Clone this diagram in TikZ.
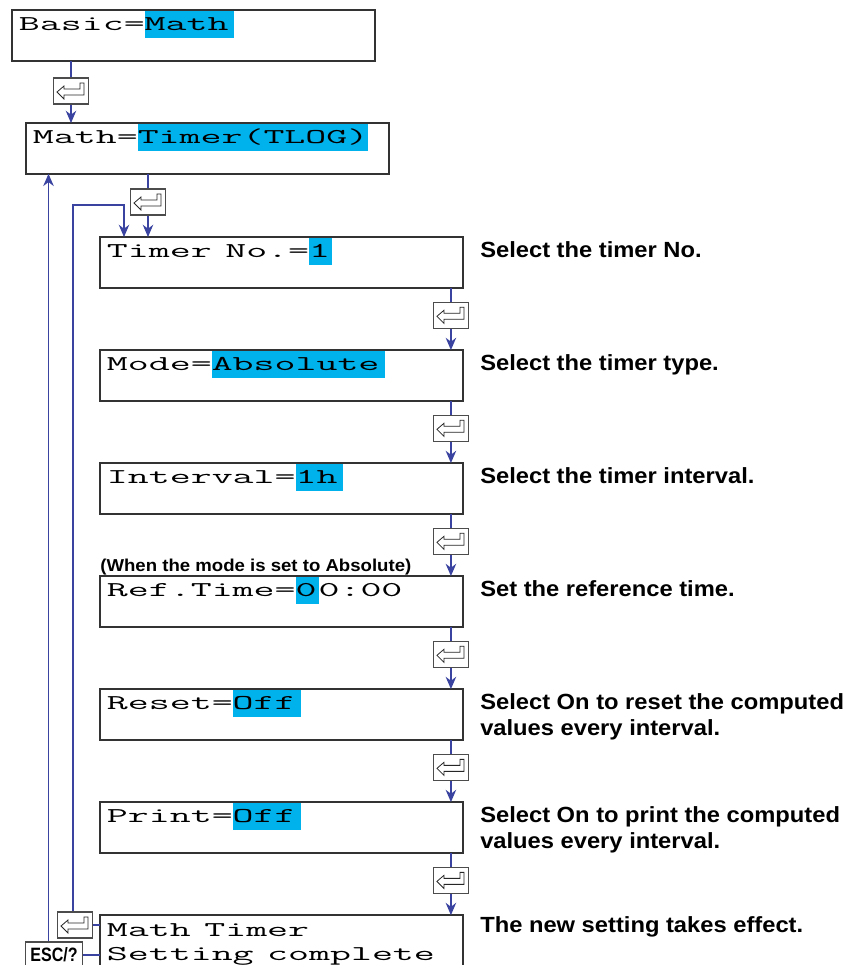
\documentclass[tikz,border=0pt]{standalone}
\usepackage{fontspec}
\usepackage{graphicx}
\usetikzlibrary{positioning,arrows.meta}
\newfontfamily\lblfont{Liberation Sans}[FakeStretch=1.08]
\newfontfamily\escfont{Liberation Sans}[FakeStretch=0.83]
\definecolor{flow}{RGB}{58,68,160}
\definecolor{lcdhl}{RGB}{0,178,236}
% LCD text: wide typewriter, highlighted value
\newcommand\lcd[1]{\scalebox{1.93}[1]{#1}}
\newcommand\hl[2][1.6pt]{{\setlength\fboxsep{0pt}\colorbox{lcdhl}{\rule[-4pt]{0pt}{15.3pt}#2\hspace{#1}}}}

\begin{document}
\begin{tikzpicture}[x=0.02cm,y=-0.02cm,>={Stealth[length=7pt,width=6pt]},node distance=1.245cm,
    lcd/.style={draw=black!80,line width=0.9pt,outer sep=0pt,anchor=north west,inner xsep=0.14cm,inner ysep=0pt,
      text width=6.98cm,align=left,text height=11.9pt,text depth=17pt,
      font=\ttfamily\fontsize{12}{14.2}\selectfont},
    key/.style={draw=black!70,fill=white,line width=0.6pt,minimum width=0.7cm,minimum height=0.52cm,inner sep=0pt,
      path picture={\draw[black!85,line width=0.45pt,shift={(path picture bounding box.center)},x=1cm,y=1cm]
        (-0.28,-0.02) -- (-0.14,0.10) -- (-0.14,0.04) -- (0.18,0.04) -- (0.18,0.16) -- (0.26,0.16)
        -- (0.26,-0.08) -- (-0.14,-0.08) -- (-0.14,-0.16) -- cycle;}},
    esc/.style={draw=black!70,fill=white,line width=0.6pt,minimum width=1.14cm,minimum height=0.52cm,inner sep=0pt,
      font=\escfont\bfseries\fontsize{11}{11}\selectfont},
    note/.style={font=\lblfont\bfseries\fontsize{12.5}{14.7}\selectfont,align=left,inner sep=0pt},
    ar/.style={->,draw=flow,line width=0.7pt}, ln/.style={draw=flow,line width=0.7pt}]
  \useasboundingbox (0,0) rectangle (850,965);
  % menu boxes
  \node[lcd] (basic) at (12,10) {\lcd{Basic=\hl{Math}}};
  \node[lcd] (math) at (26,123) {\lcd{Math=\hl[0pt]{Timer(TLOG)}}};
  \node[lcd] (timer) at (100,237) {\lcd{Timer No.=\hl[0.6pt]{1}}};
  \node[lcd,below=of timer] (mode) {\lcd{Mode=\hl{Absolute}}};
  \node[lcd,below=of mode] (intv) {\lcd{Interval=\hl{1h}}};
  \node[lcd,below=of intv] (ref) {\lcd{Ref.Time=\hl[0.6pt]{0}0:00}};
  \node[lcd,below=of ref] (reset) {\lcd{Reset=\hl{Off}}};
  \node[lcd,below=of reset] (print) {\lcd{Print=\hl{Off}}};
  \node[lcd,below=of print] (done) {\lcd{Math Timer}\\\lcd{Setting complete}};
  % comments on the right
  \node[note,right=0.34cm of timer.base east,anchor=base west] {Select the timer No.};
  \node[note,right=0.34cm of mode.base east,anchor=base west] {Select the timer type.};
  \node[note,right=0.34cm of intv.base east,anchor=base west] {Select the timer interval.};
  \node[note,right=0.34cm of ref.base east,anchor=base west] {Set the reference time.};
  \node[note,right=0.34cm of reset.base east,anchor=base west,yshift=-14.7pt] {Select On to reset the computed\\values every interval.};
  \node[note,right=0.34cm of print.base east,anchor=base west,yshift=-14.7pt] {Select On to print the computed\\values every interval.};
  \node[note,right=0.34cm of done.base east,anchor=base west,yshift=2pt] {The new setting takes effect.};
  \node[note,font=\lblfont\bfseries\fontsize{9.8}{11}\selectfont,above=0.1cm of ref.north west,anchor=base west]
    (absnote) {(When the mode is set to Absolute)};
  % enter keys
  \node[key] (k1) at (71,91) {};
  \node[key] (k2) at (148,202) {};
  \node[key,below=0.28cm of timer.south east,xshift=-0.24cm] (k3) {};
  \node[key,below=0.28cm of mode.south east,xshift=-0.24cm] (k4) {};
  \node[key,below=0.28cm of intv.south east,xshift=-0.24cm] (k5) {};
  \node[key,below=0.28cm of ref.south east,xshift=-0.24cm] (k6) {};
  \node[key,below=0.28cm of reset.south east,xshift=-0.24cm] (k7) {};
  \node[key,below=0.28cm of print.south east,xshift=-0.24cm] (k8) {};
  \node[key] (kb) at (75,925) {};
  \node[esc] (esc) at (54,955) {ESC/?};
  % connectors
  \draw[ln] (basic.south -| k1) -- (k1); \draw[ar] (k1) -- (math.north -| k1);
  \draw[ln] (math.south -| k2) -- (k2); \draw[ar] (k2) -- (timer.north -| k2);
  \draw[ln] (timer.south -| k3) -- (k3); \draw[ar] (k3) -- (mode.north -| k3);
  \draw[ln] (mode.south -| k4) -- (k4); \draw[ar] (k4) -- (intv.north -| k4);
  \draw[ln] (intv.south -| k5) -- (k5); \draw[ar] (k5) -- (ref.north -| k5);
  \draw[ln] (ref.south -| k6) -- (k6); \draw[ar] (k6) -- (reset.north -| k6);
  \draw[ln] (reset.south -| k7) -- (k7); \draw[ar] (k7) -- (print.north -| k7);
  \draw[ln] (print.south -| k8) -- (k8); \draw[ar] (k8) -- (done.north -| k8);
  \draw[ln] (kb.east) -- (kb.east -| done.west);
  \draw[ln] (esc.east) -- (esc.east -| done.west);
  \coordinate (loopup) at ([xshift=-0.04cm]kb.north);
  \coordinate (loopin) at ([xshift=0.48cm]timer.north west);
  \draw[ar] (loopup) |- ([yshift=0.64cm]loopin) -- (loopin);
  \coordinate (escup) at ([xshift=-0.11cm]esc.north);
  \draw[ar] (escup) -- (escup |- math.south);
\end{tikzpicture}
\end{document}
